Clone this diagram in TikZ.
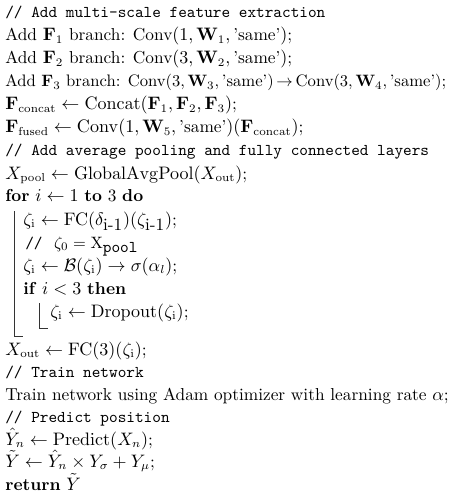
\documentclass[tikz,border=0pt]{standalone}

\begin{document}
\begin{tikzpicture}[x=0.607pt,y=-0.607pt,
  codeline/.style={anchor=base west,inner sep=0pt,font=\fontsize{10.5}{12.6}\selectfont},
  commentline/.style={codeline,font=\fontsize{10}{12}\selectfont\ttfamily},
  blockbar/.style={line width=0.45pt,black!80}]
\useasboundingbox (0,0) rectangle (454,500);

\node[commentline] (c1) at (5,18) {// Add multi-scale feature extraction};
\node[codeline] (c2) at (5,41) {Add $\mathbf{F}_1$ branch: Conv$(1,\mathbf{W}_1,\textrm{'same'})$;};
\node[codeline] (c3) at (5,64) {Add $\mathbf{F}_2$ branch: Conv$(3,\mathbf{W}_2,\textrm{'same'})$;};
\node[codeline,font=\fontsize{10.1}{12.6}\selectfont] (c4) at (5,87) {Add $\mathbf{F}_3$ branch: Conv$(3,\mathbf{W}_3,\textrm{'same'})\mathrel{\mkern-2mu\rightarrow\mkern-2mu}\textrm{Conv}(3,\mathbf{W}_4,\textrm{'same'})$;};
\node[codeline] (c5) at (5,110) {$\mathbf{F}_{\mathrm{concat}}\leftarrow\mathrm{Concat}(\mathbf{F}_1,\mathbf{F}_2,\mathbf{F}_3)$;};
\node[codeline] (c6) at (5,133) {$\mathbf{F}_{\mathrm{fused}}\leftarrow\mathrm{Conv}(1,\mathbf{W}_5,\textrm{'same'})(\mathbf{F}_{\mathrm{concat}})$;};
\node[commentline] (c7) at (5,156) {// Add average pooling and fully connected layers};
\node[codeline] (c8) at (5,179) {$X_{\mathrm{pool}}\leftarrow\mathrm{GlobalAvgPool}(X_{\mathrm{out}})$;};
\node[codeline] (c9) at (5,202) {\textbf{for} $i\leftarrow1$ \textbf{to} 3 \textbf{do}};

% body of the for loop
\node[codeline] (c10) at (23,225) {$\zeta_{\mathrm{i}}\leftarrow\mathrm{FC}(\delta_{\textrm{i-1}})(\zeta_{\textrm{i-1}})$;};
\node[commentline] (c11) at (25,248) {//\ \,$\zeta_0=\mathrm{X}_{\texttt{pool}}$};
\node[codeline] (c12) at (23,271) {$\zeta_{\mathrm{i}}\leftarrow\mathcal{B}(\zeta_{\mathrm{i}})\rightarrow\sigma(\alpha_l)$;};
\node[codeline] (c13) at (23,294) {\textbf{if} $i<3$ \textbf{then}};
\node[codeline] (c14) at (50,317) {$\zeta_{\mathrm{i}}\leftarrow\mathrm{Dropout}(\zeta_{\mathrm{i}})$;};

\coordinate (fortop) at (14,211);
\coordinate (forend) at (23,336);
\coordinate (iftop) at (39,303);
\coordinate (ifend) at (48,328);
\draw[blockbar] (fortop) |- (forend);
\draw[blockbar] (iftop) |- (ifend);

\node[codeline] (c15) at (5,355) {$X_{\mathrm{out}}\leftarrow\mathrm{FC}(3)(\zeta_{\mathrm{i}})$;};
\node[commentline] (c16) at (5,377) {// Train network};
\node[codeline] (c17) at (5,400) {Train network using Adam optimizer with learning rate $\alpha$;};
\node[commentline] (c18) at (5,422) {// Predict position};
\node[codeline] (c19) at (5,445) {$\hat{Y}_n\leftarrow\mathrm{Predict}(X_n)$;};
\node[codeline] (c20) at (5,467) {$\tilde{Y}\leftarrow\hat{Y}_n\times Y_\sigma+Y_\mu$;};
\node[codeline] (c21) at (5,490) {\textbf{return} $\tilde{Y}$};

\end{tikzpicture}
\end{document}
